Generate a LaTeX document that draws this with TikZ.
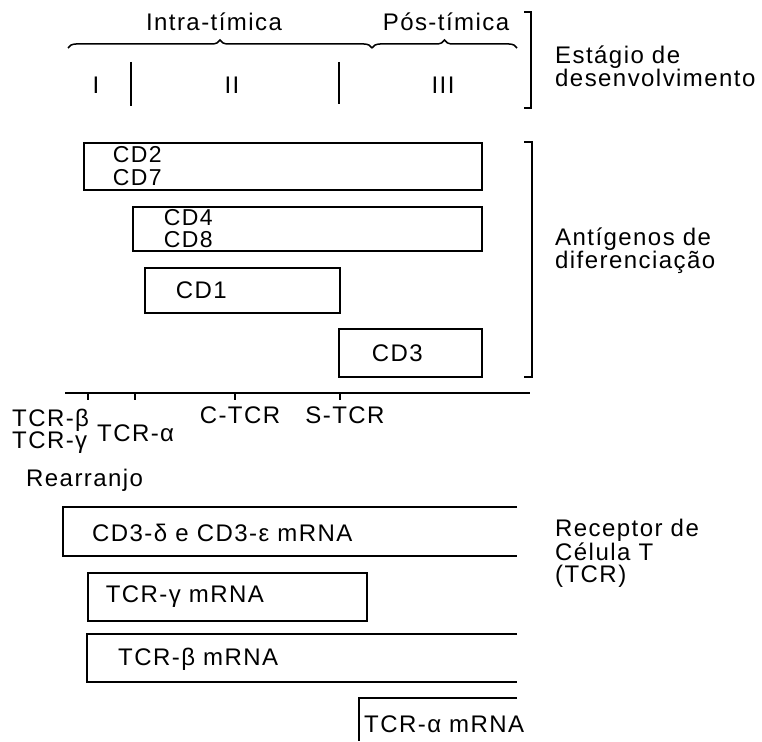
\documentclass[tikz,border=0pt]{standalone}
\usepackage{fontspec}
\setmainfont{Liberation Sans}[LetterSpace=6]
\usetikzlibrary{decorations.pathreplacing}
\begin{document}
\begin{tikzpicture}[x=1pt,y=-1pt,
  ln/.style={line width=1.6pt},
  thin/.style={line width=1.1pt},
  txt/.style={inner sep=0pt,font=\fontsize{24}{22}\selectfont},
  lbl/.style={txt,align=left,anchor=west},
  boxn/.style={draw,line width=1.6pt,anchor=north west,inner ysep=0pt,align=left,
     font=\fontsize{23}{22.5}\selectfont},
  brc/.style={decorate,decoration={brace,amplitude=8pt,aspect=0.5},line width=1.5pt}]
\useasboundingbox (0,0) rectangle (762,741);
% ---- top: stages
\node[txt] (intra) at (214,22) {Intra-tímica};
\node[txt] (pos) at (446,22) {Pós-tímica};
\coordinate (b0) at (68,48);
\coordinate (b1) at (372,48);
\coordinate (b2) at (517,48);
\draw[brc] (b0) -- (b1);
\draw[brc] (b1) -- (b2);
\node[txt] (s1) at (96,85) {I};
\node[txt] (s2) at (232,85) {II};
\node[txt] (s3) at (443,85) {III};
\coordinate (l1a) at (131,62); \coordinate (l1b) at (131,106);
\coordinate (l2a) at (339,62); \coordinate (l2b) at (339,104);
\draw[ln] (l1a) -- (l1b);
\draw[ln] (l2a) -- (l2b);
\coordinate (k1a) at (524,12); \coordinate (k1b) at (531,108);
\draw[ln] (k1a) -| (k1b) -- ++(-7,0);
\node[lbl] (estagio) at (555,66) {Estágio de\\desenvolvimento};
% ---- differentiation antigens
\node[boxn,minimum width=398pt,minimum height=47pt,text width=340pt,inner xsep=29pt] (cd27) at (83,142) {CD2\\CD7};
\node[boxn,minimum width=349pt,minimum height=44pt,text width=287pt,inner xsep=31pt] (cd48) at (132,206) {CD4\\CD8};
\node[boxn,minimum width=195pt,minimum height=45pt,text width=133pt,inner xsep=31pt,font=\fontsize{24}{22}\selectfont] (cd1) at (144,267) {CD1};
\node[boxn,minimum width=143pt,minimum height=48pt,text width=77pt,inner xsep=33pt,font=\fontsize{24}{22}\selectfont] (cd3) at (338,328) {CD3};
\coordinate (k2a) at (524,142); \coordinate (k2b) at (532,377);
\draw[ln] (k2a) -| (k2b) -- ++(-8,0);
\node[lbl] (antig) at (555,251) {Antígenos de\\diferenciação};
% ---- axis
\coordinate (ax0) at (65,393); \coordinate (ax1) at (530,393);
\draw[line width=2pt] (ax0) -- (ax1);
\foreach \x/\n in {88/t1,135/t2,235/t3,340/t4}{
  \coordinate (\n) at (\x,393);
  \draw[thin] (\n) -- ++(0,7);
}
\node[lbl] (tcrbg) at (12,431) {TCR-β\\TCR-γ};
\node[lbl] (tcra) at (97,433) {TCR-α};
\node[txt] (ctcr) at (240,415) {C-TCR};
\node[txt] (stcr) at (345,415) {S-TCR};
\node[lbl] (rearr) at (26,480) {Rearranjo};
% ---- TCR mRNA
\node[lbl] (m1) at (92,533) {CD3-δ e CD3-ε mRNA};
\coordinate (m1a) at (517,507); \coordinate (m1b) at (63,556); \coordinate (m1c) at (517,556);
\draw[ln] (m1a) -| (m1b) -- (m1c);
\node[boxn,minimum width=279pt,minimum height=48pt,text width=243pt,inner xsep=18pt,font=\fontsize{24}{22}\selectfont] (m2) at (87,572) {TCR-γ mRNA};
\node[lbl] (m3) at (118,659) {TCR-β mRNA};
\coordinate (m3a) at (517,634); \coordinate (m3b) at (87,682); \coordinate (m3c) at (517,682);
\draw[ln] (m3a) -| (m3b) -- (m3c);
\node[lbl] (m4) at (364,724) {TCR-α mRNA};
\coordinate (m4a) at (517,698); \coordinate (m4b) at (359,741);
\draw[ln] (m4a) -| (m4b);
\node[lbl] (recep) at (555,553) {Receptor de\\Célula T\\(TCR)};
\end{tikzpicture}
\end{document}
